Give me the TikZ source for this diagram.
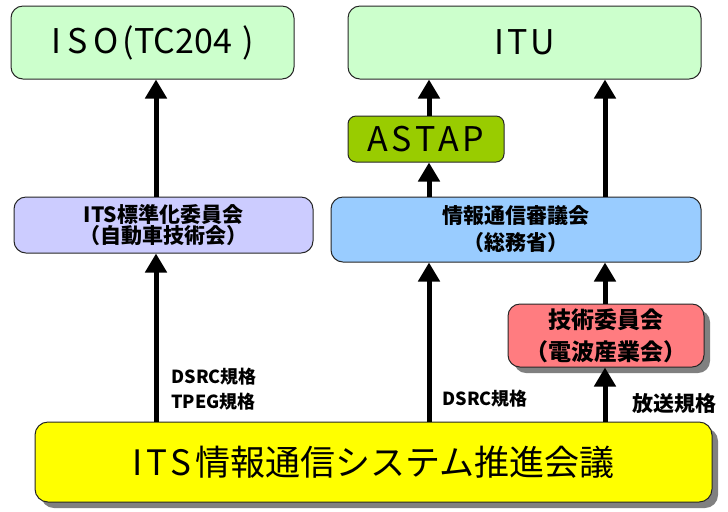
\documentclass[tikz,border=0pt]{standalone}
\usepackage{fontspec}
\setmainfont{Noto Sans CJK JP}
\usetikzlibrary{arrows.meta,shadows}

\definecolor{lightgreen}{HTML}{CCFFCC}
\definecolor{astapgreen}{HTML}{99CC00}
\definecolor{lavender}{HTML}{CCCCFF}
\definecolor{skyblue}{HTML}{99CCFF}
\definecolor{salmon}{HTML}{FF7C80}
\definecolor{brightyellow}{HTML}{FFFF00}

\begin{document}
\begin{tikzpicture}[x=0.5pt,y=-0.5pt,
	box/.style={shape=rectangle,draw=black!85,line width=0.5pt,rounded corners=6pt,inner sep=0pt,align=center},
	shadowed/.style={drop shadow={shadow xshift=3pt,shadow yshift=-3pt,fill=black!50,opacity=1}},
	up/.style={line width=2.5pt,-{Triangle[width=10.5pt,length=9.5pt]}},
	thin/.style={font=\fontsize{17}{20}\selectfont},
	heavy/.style={font=\bfseries\fontsize{10.5}{10.5}\selectfont},
	lbl/.style={anchor=west,inner sep=0pt,font=\bfseries\fontsize{9}{9}\selectfont}]
	\useasboundingbox (0,0) rectangle (728,511);

	\node[box,thin,fill=lightgreen,minimum width=141.5pt,minimum height=36.5pt] (iso) at (152.5, 42.5) {\raisebox{-1.5pt}{I\hspace{3pt}S\hspace{3pt}O\hspace{2pt}(TC204\hspace{5pt})}};
	\node[box,thin,fill=lightgreen,minimum width=176.5pt,minimum height=36.5pt] (itu) at (524.5, 42.5) {\raisebox{-1.5pt}{I\hspace{1.5pt}T\hspace{1.5pt}U}};
	\node[box,thin,fill=astapgreen,rounded corners=4pt,minimum width=78pt,minimum height=23pt] (astap) at (426, 139) {A\hspace{1.6pt}S\hspace{1.6pt}T\hspace{1.6pt}A\hspace{1.6pt}P};
	\node[box,heavy,fill=lavender,minimum width=149.5pt,minimum height=28pt] (jsae) at (163.5, 225) {ITS標準化委員会\\（自動車技術会）};
	\node[box,heavy,fill=skyblue,minimum width=185pt,minimum height=32.5pt,font=\bfseries\fontsize{10.5}{13.5}\selectfont] (council) at (516, 229.5) {情報通信審議会\\（総務省）};
	\node[box,shadowed,fill=salmon,minimum width=98pt,minimum height=31.5pt,font=\bfseries\fontsize{11.5}{16}\selectfont] (arib) at (606, 335.5) {技術委員会\\（電波産業会）};
	\node[box,shadowed,fill=brightyellow,rounded corners=6.5pt,minimum width=338.5pt,minimum height=40pt,font=\fontsize{17.5}{20}\selectfont] (promo) at (373.5, 462) {I\hspace{1.5pt}T\hspace{1.5pt}S\hspace{2pt}情報通信システム推進会議};

	\coordinate (colA) at (156, 0);
	\coordinate (colB) at (429, 0);
	\coordinate (colC) at (605, 0);

	\draw[up] (promo.north -| colA) -- (jsae.south -| colA);
	\draw[up] (jsae.north -| colA) -- (iso.south -| colA);
	\draw[up] (promo.north -| colB) -- (council.south -| colB);
	\draw[up] (council.north -| colB) -- (astap.south -| colB);
	\draw[up] (astap.north -| colB) -- (itu.south -| colB);
	\draw[up] (promo.north -| colC) -- (arib.south -| colC);
	\draw[up] (arib.north -| colC) -- (council.south -| colC);
	\draw[up] (council.north -| colC) -- (itu.south -| colC);

	\node[lbl] (stdA) at (171, 377) {DSRC規格};
	\node[lbl] (stdB) at (171, 402) {TPEG規格};
	\node[lbl] (stdC) at (442, 399) {DSRC規格};
	\node[lbl,font=\bfseries\fontsize{10.5}{10.5}\selectfont] (stdD) at (632, 404) {放送規格};
\end{tikzpicture}
\end{document}
